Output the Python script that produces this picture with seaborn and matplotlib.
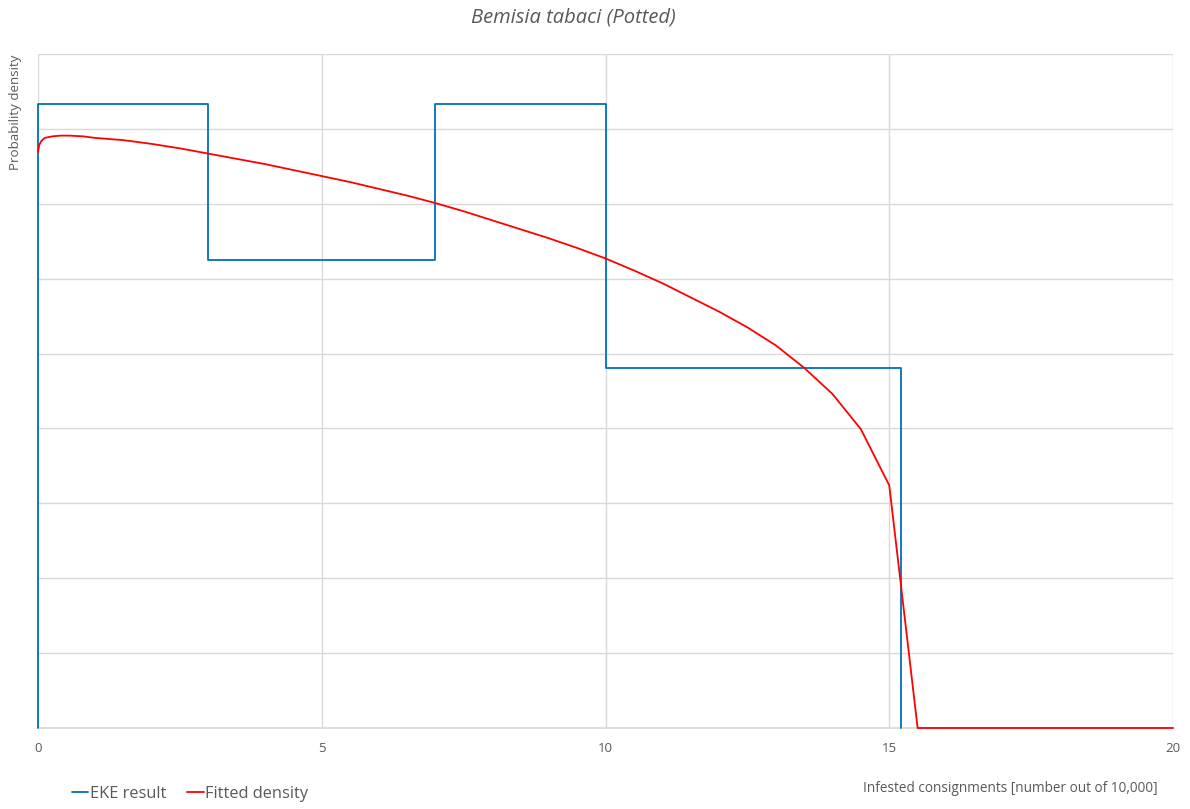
import numpy as np
import pandas as pd
import matplotlib
matplotlib.use("Agg")
import matplotlib.pyplot as plt
import seaborn as sns

# EKE result: bin edges and density per bin
bin_edges = [0, 3, 7, 10, 15.2]
bin_density = [0.0833, 0.0625, 0.0833, 0.0481]

# fitted density
fit_x = [0, 0.02, 0.06, 0.12, 0.25, 0.4, 0.56, 0.8, 1.0, 1.5, 2.0, 2.5, 3.0, 3.5, 4.0, 4.5, 5.0,
         5.5, 6.0, 6.5, 7.0, 7.5, 8.0, 8.5, 9.0, 9.5, 10.0, 10.5, 11.0, 11.5, 12.0,
         12.5, 13.0, 13.5, 14.0, 14.5, 15.0, 15.5, 16.0, 17.0, 18.0, 19.0, 20.0]
fit_y = [0.0769, 0.0778, 0.0784, 0.0788, 0.0790, 0.0791, 0.0791, 0.0790, 0.0788, 0.0785, 0.0780,
         0.0774, 0.0767, 0.0760, 0.0753, 0.0745, 0.0737, 0.0729, 0.0720, 0.0711, 0.0701,
         0.0690, 0.0678, 0.0666, 0.0654, 0.0641, 0.0627, 0.0611, 0.0594, 0.0575, 0.0556,
         0.0535, 0.0511, 0.0481, 0.0446, 0.0399, 0.0324, 0.0, 0.0, 0.0, 0.0, 0.0, 0.0]

x_ticks = [0, 5, 10, 15, 20]

# build step outline for the histogram
step_x = [bin_edges[0]]
step_y = [0.0]
for i, d in enumerate(bin_density):
    step_x += [bin_edges[i], bin_edges[i + 1]]
    step_y += [d, d]
step_x.append(bin_edges[-1])
step_y.append(0.0)

eke_df = pd.DataFrame({"x": step_x, "y": step_y})
fit_df = pd.DataFrame({"x": fit_x, "y": fit_y})

sns.set_style("white")
plt.rcParams["font.family"] = ["Open Sans", "DejaVu Sans"]
grey = "#595959"
grid = "#d9d9d9"

fig = plt.figure(figsize=(11.9, 8.09), dpi=100)
ax = fig.add_axes([38 / 1190, 1 - 728 / 809, (1173 - 38) / 1190, (728 - 54) / 809])

sns.lineplot(data=eke_df, x="x", y="y", sort=False, estimator=None, color="#0070C0",
             linewidth=1.3, ax=ax, label="EKE result", zorder=3, clip_on=False)
sns.lineplot(data=fit_df, x="x", y="y", sort=False, estimator=None, color="#FF0000",
             linewidth=1.3, ax=ax, label="Fitted density", zorder=4, clip_on=False)

ax.set_xlim(0, 20)
ax.set_ylim(0, 0.09)
ax.set_xticks(x_ticks)
ax.set_xticklabels([str(t) for t in x_ticks])
ax.set_yticks(np.arange(0, 0.0901, 0.01))
ax.set_yticklabels([])
ax.grid(True, color=grid, linewidth=1.0)
ax.set_axisbelow(True)
for s in ["top", "right", "left"]:
    ax.spines[s].set_visible(False)
ax.spines["bottom"].set_color(grid)
ax.spines["bottom"].set_linewidth(1.2)
ax.tick_params(axis="both", length=0, labelsize=9.5, colors=grey, pad=10)
ax.set_xlabel("")
ax.set_ylabel("")

fig.text(573 / 1190, 1 - 18 / 809, "Bemisia tabaci (Potted)", ha="center", va="center",
         fontsize=14.5, style="italic", color=grey)
fig.text(16 / 1190, 1 - 55 / 809, "Probability density", rotation=90, ha="center", va="top",
         fontsize=9.6, color=grey)
fig.text(1158 / 1190, 1 - 788 / 809, "Infested consignments [number out of 10,000]",
         ha="right", va="center", fontsize=9.8, color=grey)

ax.get_legend().remove()
handles, labels = ax.get_legend_handles_labels()
fig.legend(handles, labels, loc="center left", bbox_to_anchor=(57 / 1190, 1 - 794 / 809),
           ncol=2, frameon=False, handlelength=1.0, handletextpad=0.1, columnspacing=1.3,
           fontsize=11.8, labelcolor=grey)

fig.savefig("out.png", dpi=100)
